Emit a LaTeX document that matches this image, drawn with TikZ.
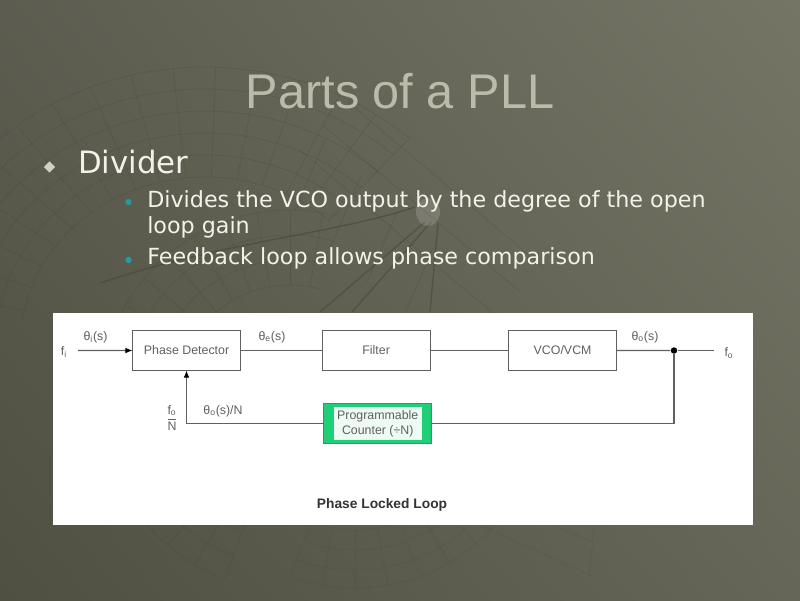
\documentclass[tikz,border=0pt]{standalone}
\usepackage{amsmath, amssymb}
\usepackage{fontspec}
\setmainfont{Liberation Sans}
\newfontfamily\bodyfont{DejaVu Sans}
\usetikzlibrary{positioning, shapes.geometric, shadings, arrows.meta}
\definecolor{slidetext}{HTML}{F2F2EA}
\definecolor{titletext}{HTML}{BABBAA}
\definecolor{inktext}{HTML}{606060}
\definecolor{gridink}{HTML}{45463A}
\definecolor{countergreen}{HTML}{1FCF78}
\definecolor{bgtl}{HTML}{5C5D50}
\definecolor{bgtr}{HTML}{747565}
\definecolor{bgbl}{HTML}{4F5041}
\definecolor{bgbr}{HTML}{656657}
\definecolor{bulletteal}{HTML}{259C9C}
\newcommand{\thetasub}[1]{θ$_{\mathrm{#1}}$(s)}

\begin{document}
\begin{tikzpicture}[
    x=0.025cm, y=-0.025cm,
    block/.style={rectangle, draw=inktext, line width=0.7pt, outer sep=0pt,
      minimum width=2.7cm, minimum height=1cm, align=center,
      text=inktext, font=\fontsize{8.8}{10.5}\selectfont},
    wire/.style={draw=inktext, line width=0.75pt},
    arrow/.style={wire, -{Latex[black, length=5pt, width=4pt]}},
    sig/.style={text=inktext, font=\fontsize{8.8}{10.5}\selectfont, inner sep=0pt},
    gridline/.style={gridink, line width=0.4pt, opacity=0.32},
    faintline/.style={gridink, line width=0.4pt, opacity=0.22},
    heavyline/.style={gridink, line width=1pt, opacity=0.55},
    lvlone/.style={text=slidetext, anchor=base west, inner sep=0pt,
      font=\bodyfont\fontsize{21.9}{26}\selectfont},
    lvltwo/.style={text=slidetext, anchor=base west, inner sep=0pt, align=left,
      font=\bodyfont\fontsize{15.8}{18.6}\selectfont},
    tealdot/.style={circle, fill=bulletteal, inner sep=0pt, minimum size=4.5pt}
  ]
    \useasboundingbox (0,0) rectangle (800,600);
    \shade[lower left=bgbl, upper left=bgtl, upper right=bgtr, lower right=bgbr]
      (0,0) rectangle (800,600);
    \foreach \r in {168,190,212,234,256,278}
      \draw[gridline] plot[domain=48:172, samples=36, smooth]
        ({205+1.1*\r*cos(\x)},{345-\r*sin(\x)});
    \foreach \a in {48,56,...,172}
      \draw[gridline] ({205+1.1*168*cos(\a)},{345-168*sin(\a)}) --
        ({205+1.1*278*cos(\a)},{345-278*sin(\a)});
    \foreach \r in {115,140,165,190}
      \draw[gridline] plot[domain=110:285, samples=40, smooth]
        ({290+\r*cos(\x)},{400+\r*sin(\x)});
    \foreach \a in {110,120,...,285}
      \draw[gridline] ({290+115*cos(\a)},{400+115*sin(\a)}) --
        ({290+190*cos(\a)},{400+190*sin(\a)});
    \foreach \r in {130,150,170,188}
      \draw[faintline] plot[domain=25:110, samples=30, smooth]
        ({355+\r*cos(\x)},{400+\r*sin(\x)});
    \foreach \a in {40,50,...,110}
      \draw[faintline] ({355+130*cos(\a)},{400+130*sin(\a)}) --
        ({355+188*cos(\a)},{400+188*sin(\a)});
    \draw[faintline] (485,527) -- (592,576);
    \draw[faintline] (556,527) -- (594,542);
    \draw[faintline] (594,527) -- (589,576);
    \foreach \off in {0,24,48}
      \draw[gridline] (300+\off,150-\off) -- (495+\off,315-\off);
    \foreach \off in {0,36,72,108}
      \draw[gridline] (325+\off,140+\off) -- (295+\off,210+\off);
    \draw[heavyline] (100,283) .. controls (230,240) and (330,235) .. (415,207);
    \draw[heavyline] (425,222) -- (320,312);
    \draw[heavyline] (431,222) -- (352,312);
    \draw[heavyline] (438,224) -- (430,312);
    \fill[white, opacity=0.15] (428,212) ellipse (12 and 14);

    \node[text=titletext, anchor=base, inner sep=0pt,
      font=\fontsize{34.6}{40}\selectfont] (title) at (400,108) {Parts of a PLL};
    \node[diamond, fill=titletext!70!white, inner sep=0pt, minimum size=8pt] (bulmain) at (49.5,167) {};
    \node[lvlone] (divider) at (78,173) {Divider};
    \node[tealdot] (bulone) at (128.5,202) {};
    \node[lvltwo] (divides) at (147,207) {Divides the VCO output by the degree of the open};
    \node[lvltwo] (gain) at (147,233) {loop gain};
    \node[tealdot] (bultwo) at (128.5,260) {};
    \node[lvltwo] (feedback) at (147,264) {Feedback loop allows phase comparison};

    \node[fill=white, minimum width=17.5cm, minimum height=5.3cm, inner sep=0pt] (panel) at (403,419) {};
    \node[block, anchor=north west] (det) at (132.5,330.5) {Phase Detector};
    \node[block, right=2.04cm of det] (filter) {Filter};
    \node[block, right=1.96cm of filter] (vco) {VCO/VCM};
    \node[block, fill=countergreen, draw=black!55, below=0.825cm of filter, xshift=0.04cm] (counter) {};
    \node[block, draw=none, fill=white!92!countergreen, minimum width=2.2cm, minimum height=0.825cm,
      inner sep=0pt] (counterin) at (counter.center) {Programmable \\ Counter (÷N)};
    \node[circle, fill=black, inner sep=0pt, minimum size=4.6pt] (junction) at (674,350.5) {};
    \coordinate (inp) at (78,350.5);
    \coordinate (outp) at (714,350.5);

    \draw[arrow] (inp) -- (det);
    \draw[wire] (det) -- (filter);
    \draw[wire] (filter) -- (vco);
    \draw[wire] (vco) -- (junction);
    \draw[wire] (junction) -- (outp);
    \draw[wire] (junction) |- (counter);
    \draw[arrow] (counter) -| (det);

    \node[sig] (fi) at (64,352) {f$_{\mathrm{i}}$};
    \node[sig] (thetai) at (95.5,337) {\thetasub{i}};
    \node[sig] (thetae) at (272,337) {\thetasub{e}};
    \node[sig] (thetao) at (645,337) {\thetasub{o}};
    \node[sig] (fo) at (729,353) {f$_{\mathrm{o}}$};
    \node[sig] (foN) at (172,418) {$\dfrac{\mathrm{f}_{\mathrm{o}}}{\mathrm{N}}$};
    \node[sig] (thetaN) at (223,411) {\thetasub{o}/N};
    \node[text=black!80, inner sep=0pt, font=\bfseries\fontsize{9.8}{11}\selectfont] (caption) at (382,504.5) {Phase Locked Loop};
  \end{tikzpicture}
\end{document}
